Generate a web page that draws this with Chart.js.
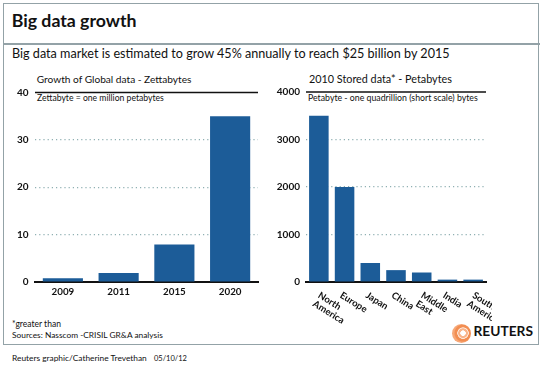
<!DOCTYPE html>
<html><head><meta charset="utf-8">
<script src="https://cdn.jsdelivr.net/npm/chart.js@4"></script>
<style>
html,body{margin:0;padding:0;background:#fff;}
body{width:543px;height:365px;position:relative;overflow:hidden;font-family:Lato,sans-serif;color:#111;}
.t{position:absolute;white-space:nowrap;line-height:1;}
#box{position:absolute;left:3px;top:3px;width:534px;height:340px;border:1.5px solid #93a2a7;}
#sep{position:absolute;left:3px;top:43px;width:537px;height:1.5px;background:#93a2a7;}
canvas{position:absolute;}
#logo{position:absolute;left:451.5px;top:323.5px;width:19px;height:19px;border-radius:50%;
 background:radial-gradient(circle at 58% 48%, #fff 0 2.5px, #f9b48a 3px 4.5px, #fde6d8 5px 5.5px, #f28e52 6px 8px, #f6a878 9px 100%);}
</style></head><body>
<div id="box"></div>
<div id="sep"></div>
<div class="t fit" data-x="11.7" data-w="125" data-b="27" data-s="18" style="font-weight:bold;">Big data growth</div>
<div class="t fit" data-x="12" data-w="438" data-b="58" data-s="13">Big data market is estimated to grow 45% annually to reach $25 billion by 2015</div>
<div class="t fit" data-x="36.7" data-w="155" data-b="83.3" data-s="11">Growth of Global data - Zettabytes</div>
<div class="t fit" data-x="37" data-w="127" data-b="100.5" data-s="9">Zettabyte = one million petabytes</div>
<div class="t fit" data-x="309" data-w="143" data-b="83.3" data-s="11">2010 Stored data* - Petabytes</div>
<div class="t fit" data-x="308" data-w="170" data-b="100.5" data-s="9">Petabyte - one quadrillion (short scale) bytes</div>
<div class="t fit" data-x="12" data-w="49" data-b="326.7" data-s="9">*greater than</div>
<div class="t fit" data-x="12" data-w="151" data-b="338.3" data-s="9">Sources: Nasscom -CRISIL GR&amp;A analysis</div>
<div class="t fit" data-x="12" data-w="135" data-b="361" data-s="9">Reuters graphic/Catherine Trevethan</div>
<div class="t fit" data-x="154" data-w="33" data-b="361" data-s="9">05/10/12</div>
<div id="logo"></div>
<div class="t fit" data-x="473.5" data-w="59.5" data-b="336" data-s="11" style="font-weight:bold;">REUTERS</div>
<canvas id="c1" width="262" height="220" style="left:0;top:80px;width:262px;height:220px;"></canvas>
<canvas id="c2" width="222" height="260" style="left:270px;top:80px;width:222px;height:260px;"></canvas>
<script>
const FONT = 'Lato, sans-serif';
const BAR = '#1c5c98';
const GRID = '#8fb0b2';

// Left chart: Growth of Global data - Zettabytes
const yearLabels = ['2009', '2011', '2015', '2020'];
const zettabytes = [0.8, 1.9, 7.9, 35];
const zettaTicks = [0, 10, 20, 30, 40];

// Right chart: 2010 Stored data - Petabytes
const regionLabels = [['North', 'America'], ['Europe'], ['Japan'], ['China'], ['Middle', 'East'], ['India'], ['South', 'America']];
const petabytes = [3500, 2000, 400, 250, 200, 50, 50];
const petaTicks = [0, 1000, 2000, 3000, 4000];

// fit html text to measured widths and baselines
document.querySelectorAll('.fit').forEach(el => {
  const s0 = parseFloat(el.dataset.s);
  el.style.fontSize = s0 + 'px';
  el.style.left = el.dataset.x + 'px';
  el.style.top = '0px';
  const w0 = el.getBoundingClientRect().width;
  const s = s0 * parseFloat(el.dataset.w) / w0;
  el.style.fontSize = s + 'px';
  const mark = document.createElement('span');
  mark.style.cssText = 'display:inline-block;width:0;height:0;vertical-align:baseline;';
  el.appendChild(mark);
  const bOff = mark.getBoundingClientRect().top - el.getBoundingClientRect().top;
  el.style.top = (parseFloat(el.dataset.b) - bOff) + 'px';
});

Chart.defaults.font.family = FONT;
Chart.defaults.color = '#111';

const topLine = {
  id: 'topLine',
  afterDraw(chart) {
    const {ctx, chartArea} = chart;
    ctx.save();
    ctx.strokeStyle = '#111';
    ctx.lineWidth = 1.5;
    ctx.beginPath();
    ctx.moveTo(chartArea.left, chartArea.top);
    ctx.lineTo(chartArea.right, chartArea.top);
    ctx.stroke();
    ctx.restore();
  }
};

const ANG = 32 * Math.PI / 180;
const rotLabels = {
  id: 'rotLabels',
  afterDraw(chart) {
    const {ctx} = chart;
    const xs = chart.scales.x;
    const y0 = chart.chartArea.bottom;
    ctx.save();
    ctx.font = 'bold 9.5px ' + FONT;
    ctx.fillStyle = '#111';
    ctx.textAlign = 'left';
    ctx.textBaseline = 'alphabetic';
    regionLabels.forEach((lines, i) => {
      const x = xs.getPixelForValue(i);
      const dx = lines.length > 1 ? -1.5 : -5.3;
      ctx.save();
      ctx.translate(x + dx, y0 + 15);
      ctx.rotate(ANG);
      lines.forEach((ln, j) => {
        ctx.fillText(ln, 0, j * 10);
      });
      ctx.restore();
    });
    ctx.restore();
  }
};

function yScale(max, ticks, width, pad) {
  return {
    min: 0, max: max,
    afterBuildTicks(s) { s.ticks = ticks.map(v => ({value: v})); },
    afterFit(s) { s.width = width; },
    grid: {
      drawTicks: false,
      color: c => (c.tick && (c.tick.value === 0 || c.tick.value === max)) ? 'rgba(0,0,0,0)' : GRID,
      lineWidth: 1.2
    },
    border: {display: false, dash: [1.2, 3]},
    ticks: {padding: pad, font: {size: 10, weight: 'bold'}, color: '#111', callback: v => String(v)}
  };
}

new Chart(document.getElementById('c1'), {
  type: 'bar',
  data: {labels: yearLabels, datasets: [{data: zettabytes, backgroundColor: BAR, barPercentage: 0.72, categoryPercentage: 1}]},
  options: {
    responsive: false, animation: false, devicePixelRatio: 1,
    layout: {padding: {top: 7, right: 4, left: 0, bottom: 0}},
    plugins: {legend: {display: false}, tooltip: {enabled: false}, title: {display: false}},
    scales: {
      y: yScale(40, zettaTicks, 35, 6.5),
      x: {
        afterFit(s) { s.height = 18; },
        grid: {display: false, drawTicks: false},
        border: {display: true, color: '#111', width: 2},
        ticks: {padding: 4, font: {size: 9.8, weight: 'bold'}, color: '#111', maxRotation: 0}
      }
    }
  },
  plugins: [topLine]
});

new Chart(document.getElementById('c2'), {
  type: 'bar',
  data: {labels: regionLabels, datasets: [{data: petabytes, backgroundColor: BAR, barPercentage: 0.76, categoryPercentage: 1}]},
  options: {
    responsive: false, animation: false, devicePixelRatio: 1,
    layout: {padding: {top: 7, right: 6, left: 0, bottom: 0}},
    plugins: {legend: {display: false}, tooltip: {enabled: false}, title: {display: false}},
    scales: {
      y: yScale(4000, petaTicks, 36, 6),
      x: {
        afterFit(s) { s.height = 58; },
        grid: {display: false, drawTicks: false},
        border: {display: true, color: '#111', width: 2},
        ticks: {display: false}
      }
    }
  },
  plugins: [topLine, rotLabels]
});
</script>
</body></html>
